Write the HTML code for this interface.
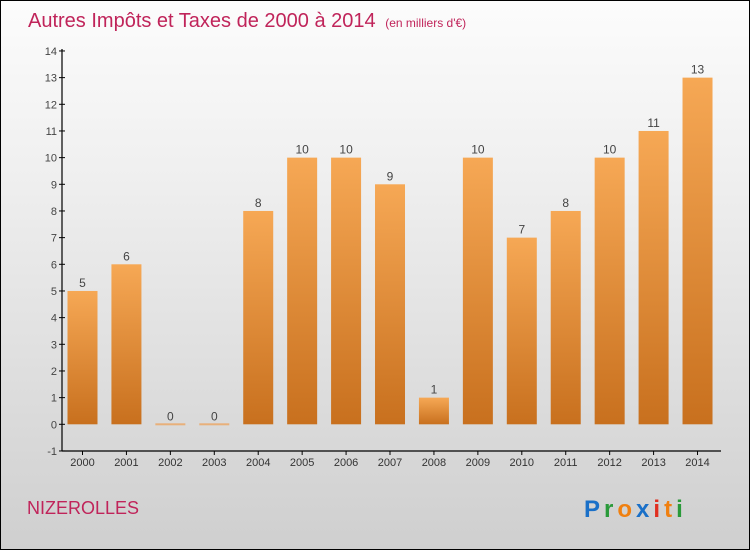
<!DOCTYPE html>
<html><head><meta charset="utf-8"><style>
body{margin:0}
#c{position:relative;width:748px;height:548px;border:1px solid #000;background:linear-gradient(#fcfcfc,#f0f0f0 30%,#cfcfcf);font-family:"Liberation Sans",sans-serif;overflow:hidden}
</style></head><body>
<div id="c">
<svg width="748" height="548">
<defs><linearGradient id="g" x1="0" y1="0" x2="0" y2="1"><stop offset="0" stop-color="#f6a855"/><stop offset="1" stop-color="#c8701e"/></linearGradient></defs>
<text x="27" y="26" font-size="20" fill="#c0245a">Autres Impôts et Taxes de 2000 à 2014 <tspan font-size="12" dx="4">(en milliers d'€)</tspan></text>
<text x="26" y="513" font-size="18" fill="#c0245a">NIZEROLLES</text>
<text x="583" y="516" font-size="24" font-weight="bold" letter-spacing="4"><tspan fill="#1a70c8">P</tspan><tspan fill="#2a9a3a">r</tspan><tspan fill="#f08010">o</tspan><tspan fill="#1a70c8">x</tspan><tspan fill="#e03020">i</tspan><tspan fill="#f08010">t</tspan><tspan fill="#2a9a3a">i</tspan></text>
<g id="plot"></g>
</svg></div>
<script>
const years=["2000","2001","2002","2003","2004","2005","2006","2007","2008","2009","2010","2011","2012","2013","2014"];
const values=[5,6,0,0,8,10,10,9,1,10,7,8,10,11,13];
const yTicks=[-1,0,1,2,3,4,5,6,7,8,9,10,11,12,13,14];
const NS="http://www.w3.org/2000/svg";
const g=document.getElementById('plot');
const y=v=>423.3-(v)*26.667;
const x=i=>81.5+i*43.93;
function mk(t,a){const e=document.createElementNS(NS,t);for(const k in a)e.setAttribute(k,a[k]);g.appendChild(e);return e;}
values.forEach((v,i)=>{
  let r;
  if(v>0){r=mk('rect',{x:x(i)-15,y:y(v),width:30,height:y(0)-y(v),fill:'url(#g)'});}
  else{r=mk('rect',{x:x(i)-15,y:y(0)-1,width:30,height:2,fill:'#e8b07a'});}
  
  
  const t=mk('text',{x:x(i),y:y(v)-4,'font-size':12,fill:'#444','text-anchor':'middle'});
  t.textContent=v;
  
  
  const xl=mk('text',{x:x(i),y:465,'font-size':11,fill:'#333','text-anchor':'middle'});
  xl.textContent=years[i];
  
  
  mk('line',{x1:x(i),x2:x(i),y1:450,y2:454,stroke:'#000'});
});
yTicks.forEach(v=>{
  mk('line',{x1:58,x2:64,y1:y(v),y2:y(v),stroke:'#000'});
  const t=mk('text',{x:56,y:y(v)+4,'font-size':11,fill:'#444','text-anchor':'end'});
  t.textContent=v;
  
  
});
const ya=mk('line',{x1:61,x2:61,y1:48,y2:450,stroke:'#000','stroke-width':1.2});


const xa=mk('line',{x1:61,x2:720,y1:450,y2:450,stroke:'#000','stroke-width':1.2});


</script>
</body></html>
